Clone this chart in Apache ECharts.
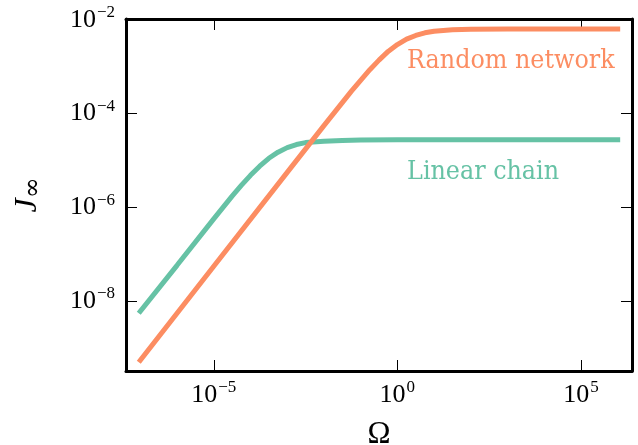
<!DOCTYPE html>
<html><head><meta charset="utf-8">
<script src="https://cdn.jsdelivr.net/npm/echarts@6/dist/echarts.min.js"></script>
<style>html,body{margin:0;padding:0;background:#fff}#c{width:638px;height:445px}</style>
</head><body><div id="c"></div>
<script>
// Random network: Ω and J∞ values
const randomOmega = [1e-7, 1e-5, 1e-3, 1e-2, 3.16e-2, 5.62e-2, 1e-1, 1.78e-1, 3.16e-1, 5.62e-1, 1, 1.78, 3.16, 5.62, 10, 31.6, 100, 1e3, 3.16e4, 1e6];
const randomJ = [5.62e-10, 5.62e-8, 5.62e-6, 5.56e-5, 1.72e-4, 3.02e-4, 5.13e-4, 8.61e-4, 1.38e-3, 2.11e-3, 2.95e-3, 3.86e-3, 4.62e-3, 5.26e-3, 5.69e-3, 6.10e-3, 6.24e-3, 6.31e-3, 6.31e-3, 6.31e-3];
// Linear chain
const chainOmega = [1e-7, 1e-6, 1e-5, 3.16e-5, 5.62e-5, 1e-4, 1.78e-4, 3.16e-4, 5.62e-4, 1e-3, 1.78e-3, 3.16e-3, 1e-2, 3.16e-2, 1e-1, 1, 1e3, 1e6];
const chainJ = [6.17e-9, 5.89e-8, 5.75e-7, 1.75e-6, 2.96e-6, 4.86e-6, 7.60e-6, 1.12e-5, 1.51e-5, 1.89e-5, 2.20e-5, 2.42e-5, 2.57e-5, 2.68e-5, 2.74e-5, 2.78e-5, 2.79e-5, 2.79e-5];
// tick exponents (labels 10^n)
const xTickExp = [-5, 0, 5];
const yTickExp = [-8, -6, -4, -2];
// annotations: [name, Ω, J]
const annRandom = ['Random network', 1.78, 1.33e-3];
const annChain = ['Linear chain', 1.78, 5.6e-6];

const L = Math.log10;
const toPts = (xs, ys) => xs.map((x, i) => [L(x), L(ys[i])]);
const SERIF = 'Liberation Serif';
const powLabel = v => '{b|10}{s|' + (v < 0 ? '\u2212' : '') + Math.abs(v) + '}';
const rich = {
  b: {fontFamily: SERIF, fontSize: 26, lineHeight: 32, color: '#000'},
  s: {fontFamily: SERIF, fontSize: 17, lineHeight: 14, verticalAlign: 'top', color: '#000', padding: [0, 0, 0, 1]}
};
const axisLine = {show: true, onZero: false, lineStyle: {color: '#000', width: 3}};
const tick = vals => ({show: true, inside: true, length: 11, customValues: vals, lineStyle: {color: '#000', width: 1}});

const chart = echarts.init(document.getElementById('c'), null, {renderer: 'canvas'});
const annLabel = (a, color) => ({
  symbol: 'circle', symbolSize: 1, itemStyle: {color: 'rgba(0,0,0,0)'},
  data: [{coord: [L(a[1]), L(a[2])], value: a[0],
    label: {show: true, position: 'right', distance: 0, formatter: a[0], color: color,
      fontFamily: 'DejaVu Serif Condensed, DejaVu Serif', fontSize: 26.5}}]
});
chart.setOption({
  animation: false,
  backgroundColor: '#fff',
  grid: {left: 126, top: 19, width: 506, height: 352, containLabel: false, outerBoundsMode: 'none'},
  xAxis: [
    {type: 'value', position: 'bottom', min: -7.39, max: 6.39,
     axisLine: axisLine, axisTick: tick(xTickExp), splitLine: {show: false},
     axisLabel: {customValues: xTickExp, formatter: powLabel, rich: rich, margin: 8},
     name: 'Ω', nameLocation: 'middle', nameGap: 48,
     nameTextStyle: {fontFamily: SERIF, fontSize: 31, color: '#000'}},
    {type: 'value', position: 'top', min: -7.39, max: 6.39,
     axisLine: axisLine, axisTick: tick(xTickExp), splitLine: {show: false},
     axisLabel: {show: false}}
  ],
  yAxis: [
    {type: 'value', position: 'left', min: -9.48, max: -1.985,
     axisLine: axisLine, axisTick: tick(yTickExp), splitLine: {show: false},
     axisLabel: {customValues: yTickExp, formatter: powLabel, rich: rich, margin: 11},
     name: '{j|J}{i|∞}', nameLocation: 'middle', nameGap: 80, nameRotate: 90,
     nameTextStyle: {rich: {
       j: {fontFamily: SERIF, fontStyle: 'italic', fontSize: 32, lineHeight: 36, color: '#000'},
       i: {fontFamily: 'DejaVu Serif', fontSize: 25, lineHeight: 16, verticalAlign: 'bottom', color: '#000'}}}},
    {type: 'value', position: 'right', min: -9.48, max: -1.985,
     axisLine: axisLine, axisTick: tick(yTickExp), splitLine: {show: false},
     axisLabel: {show: false}}
  ],
  series: [
    {type: 'line', name: 'Random network', data: toPts(randomOmega, randomJ), showSymbol: false,
     lineStyle: {color: '#fc8d62', width: 5, cap: 'square'}, itemStyle: {color: '#fc8d62'},
     markPoint: annLabel(annRandom, '#fc8d62'), z: 3},
    {type: 'line', name: 'Linear chain', data: toPts(chainOmega, chainJ), showSymbol: false,
     lineStyle: {color: '#66c2a5', width: 5, cap: 'square'}, itemStyle: {color: '#66c2a5'},
     markPoint: annLabel(annChain, '#66c2a5'), z: 2}
  ]
});
</script></body></html>
